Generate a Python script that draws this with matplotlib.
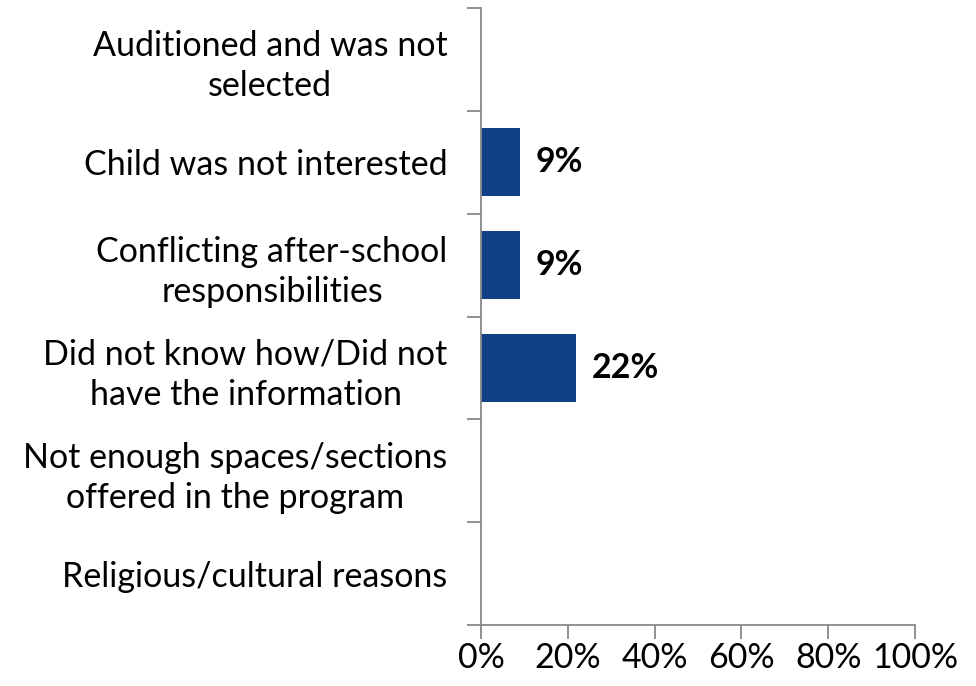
import matplotlib.pyplot as plt
import numpy as np

categories = [
    "Auditioned and was not\nselected",
    "Child was not interested",
    "Conflicting after-school\nresponsibilities",
    "Did not know how/Did not\nhave the information",
    "Not enough spaces/sections\noffered in the program",
    "Religious/cultural reasons",
]
values = [0, 0.09, 0.09, 0.22, 0, 0]
labels = ["", "9%", "9%", "22%", "", ""]
x_ticks = [0, 0.2, 0.4, 0.6, 0.8, 1.0]
x_tick_labels = ["0%", "20%", "40%", "60%", "80%", "100%"]

plt.rcParams['font.family'] = ['Lato', 'DejaVu Sans']

fig = plt.figure(figsize=(9.76, 6.86), dpi=100)
ax = fig.add_axes([481 / 976, 1 - 625 / 686, 434 / 976, 617 / 686])

y = np.arange(len(categories))
ax.barh(y, values, height=0.66, color='#124087')
for yi, v, lab in zip(y, values, labels):
    if lab:
        ax.text(v + 0.035, yi, lab, va='center', ha='left', fontsize=24.5, fontweight='bold')

ax.set_xlim(0, 1)
ax.set_ylim(len(categories) - 0.5, -0.5)
ax.set_xticks(x_ticks)
ax.set_xticklabels(x_tick_labels, fontsize=24.5)
ax.set_yticks(y)
ax.set_yticklabels(categories, fontsize=24.5)
for t in ax.get_yticklabels():
    t.set_multialignment('center')
    t.set_linespacing(1.3)
ax.set_yticks(np.arange(len(categories) + 1) - 0.5, minor=True)
ax.tick_params(axis='y', which='major', length=0, pad=24)
ax.tick_params(axis='y', which='minor', length=10, color='#888888', width=1.3)
ax.tick_params(axis='x', length=10, color='#888888', width=1.3, pad=2)

for s in ['top', 'right']:
    ax.spines[s].set_visible(False)
for s in ['left', 'bottom']:
    ax.spines[s].set_color('#888888')
    ax.spines[s].set_linewidth(1.3)

fig.savefig('out.png', dpi=100)
